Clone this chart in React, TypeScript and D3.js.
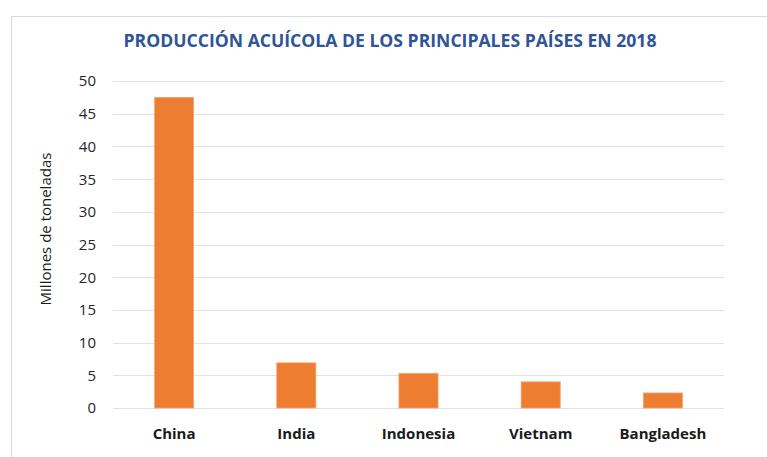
import * as d3 from "d3";

const countries = ["China", "India", "Indonesia", "Vietnam", "Bangladesh"];
const production = [47.5, 6.9, 5.3, 4.0, 2.3];
const yTicks = [0, 5, 10, 15, 20, 25, 30, 35, 40, 45, 50];

const title = "PRODUCCIÓN ACUÍCOLA DE LOS PRINCIPALES PAÍSES EN 2018";
const yLabel = "Millones de toneladas";

export default function App() {
  const width = 767;
  const height = 457;
  const marginLeft = 113;
  const marginRight = 43;
  const marginTop = 81;
  const marginBottom = 49;

  const x = d3
    .scaleBand()
    .domain(countries)
    .range([marginLeft, width - marginRight])
    .paddingInner(0.68)
    .paddingOuter(0.34);

  const y = d3
    .scaleLinear()
    .domain([0, 50])
    .range([height - marginBottom, marginTop]);

  const font = "'Open Sans', 'DejaVu Sans', sans-serif";

  return (
    <div style={{ position: "fixed", left: 0, top: 0 }}>
      <svg width={width} height={height} style={{ display: "block", background: "#fff" }}>
        {/* chart frame */}
        <rect x={11.5} y={16.5} width={width} height={height} fill="none" stroke="#d9d9d9" />

        <text
          x={390}
          y={47}
          textAnchor="middle"
          fontFamily={font}
          fontWeight="bold"
          fontSize={17.6}
          fill="#2f5597"
        >
          {title}
        </text>

        {/* gridlines + ticks */}
        {yTicks.map((t) => (
          <g key={t}>
            <line
              x1={marginLeft}
              x2={width - marginRight}
              y1={Math.round(y(t)) + 0.5}
              y2={Math.round(y(t)) + 0.5}
              stroke="#e2e2e2"
              strokeWidth={1.2}
            />
            <text
              x={96}
              y={y(t)}
              dy="0.36em"
              textAnchor="end"
              fontFamily={font}
              fontSize={15}
              fill="#262626"
            >
              {t}
            </text>
          </g>
        ))}

        {/* bars */}
        {countries.map((c, i) => (
          <rect
            key={c}
            x={x(c)}
            y={y(production[i])}
            width={x.bandwidth()}
            height={y(0) - y(production[i])}
            fill="#ed7d31"
            stroke="#f4a574"
            strokeWidth={0.8}
          />
        ))}

        {/* category labels */}
        {countries.map((c) => (
          <text
            key={c}
            x={(x(c) ?? 0) + x.bandwidth() / 2}
            y={439}
            textAnchor="middle"
            fontFamily={font}
            fontWeight="bold"
            fontSize={15}
            fill="#1a1a1a"
          >
            {c}
          </text>
        ))}

        <text
          transform={`translate(51, 229) rotate(-90)`}
          textAnchor="middle"
          fontFamily={font}
          fontSize={15}
          fill="#1a1a1a"
        >
          {yLabel}
        </text>
      </svg>
    </div>
  );
}
